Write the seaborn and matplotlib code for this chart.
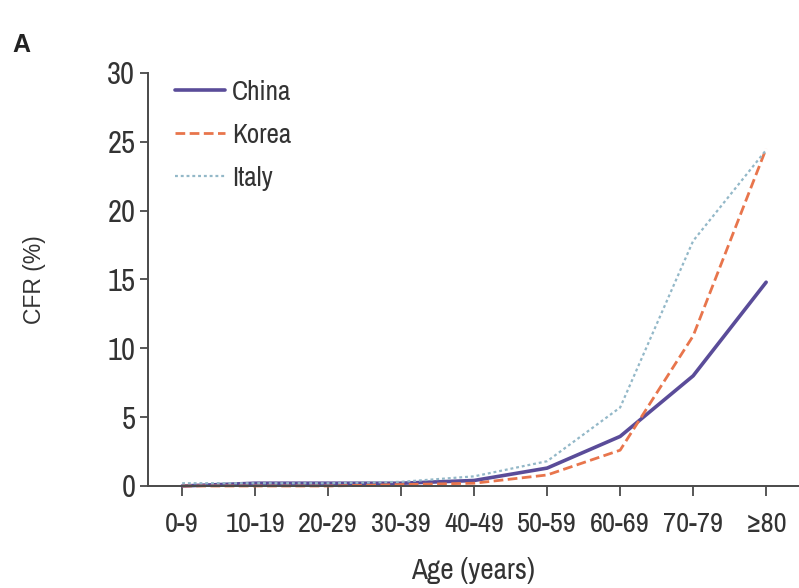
import matplotlib
matplotlib.use("Agg")
import matplotlib.pyplot as plt
from matplotlib import font_manager
from matplotlib.lines import Line2D
import seaborn as sns
import pandas as pd

# Case fatality rate (%) by age group
age_groups = ["0-9", "10-19", "20-29", "30-39", "40-49", "50-59", "60-69", "70-79", "≥80"]
china = [0.0, 0.2, 0.2, 0.2, 0.4, 1.3, 3.6, 8.0, 14.8]
korea = [0.0, 0.0, 0.0, 0.1, 0.2, 0.8, 2.6, 10.9, 24.5]
italy = [0.2, 0.2, 0.2, 0.3, 0.7, 1.8, 5.7, 17.8, 24.4]
countries = ["China", "Korea", "Italy"]
y_ticks = [0, 5, 10, 15, 20, 25, 30]

df = pd.DataFrame({
    "age": age_groups * 3,
    "cfr": china + korea + italy,
    "country": ["China"] * 9 + ["Korea"] * 9 + ["Italy"] * 9,
})

# Prefer a condensed sans face when one is available
narrow_family = None
narrow_stretch = "normal"
for f in font_manager.fontManager.ttflist:
    name = f.name.lower()
    if "narrow" in name or "condensed" in name:
        narrow_family = f.name
        break
if narrow_family is None:
    for f in font_manager.fontManager.ttflist:
        st = f.stretch
        if (isinstance(st, str) and "condensed" in st) or (isinstance(st, int) and st < 500):
            narrow_family = f.name
            narrow_stretch = "condensed"
            break
if narrow_family is None:
    narrow_family = "Liberation Sans"
have_narrow = narrow_family != "Liberation Sans"

sns.set_theme(style="white")
plt.rcParams["font.family"] = [narrow_family, "DejaVu Sans"]
plt.rcParams["font.stretch"] = narrow_stretch

scale = 1.0 if have_narrow else 0.86

palette = {"China": "#5a4c99", "Korea": "#e8754c", "Italy": "#93b8c8"}
dashes = {"China": "", "Korea": (3.5, 1.6), "Italy": (1.3, 1.3)}
widths = {"China": 2.6, "Korea": 2.0, "Italy": 1.6}

fig = plt.figure(figsize=(7.99, 5.88), dpi=100)
ax = fig.add_axes([0.185, 0.1735, 0.815, 0.7025])

sns.lineplot(data=df, x="age", y="cfr", hue="country", style="country",
             hue_order=countries, style_order=countries,
             palette=palette, dashes=dashes, sort=False, ax=ax, legend=False)
for line, name in zip(ax.get_lines(), countries):
    line.set_linewidth(widths[name])
    line.set_clip_on(False)

ax.set_xlim(-0.47, 8.45)
ax.set_ylim(0, 30)
ax.set_yticks(y_ticks)
ax.set_yticklabels([str(v) for v in y_ticks])

for side in ["top", "right"]:
    ax.spines[side].set_visible(False)
for side in ["left", "bottom"]:
    ax.spines[side].set_color("#4a4a4a")
    ax.spines[side].set_linewidth(1.4)

ax.tick_params(axis="y", direction="out", length=6, width=1.3, color="#4a4a4a",
               labelsize=22 * scale, labelcolor="#333333", pad=3, left=True)
ax.tick_params(axis="x", direction="out", length=7, width=1.3, color="#4a4a4a",
               labelsize=20.5 * scale, labelcolor="#333333", pad=12, bottom=True)

ax.set_xlabel("Age (years)", fontsize=21 * scale, color="#333333", labelpad=14)
ax.set_ylabel("CFR (%)", fontsize=16.5, color="#333333", labelpad=44,
              family=["Liberation Sans", "DejaVu Sans"], fontstretch="normal")

handles = [Line2D([0], [0], color=palette[c], lw=widths[c],
                  dashes=dashes[c] if dashes[c] else (None, None)) for c in countries]
ax.legend(handles, countries, loc="upper left", bbox_to_anchor=(0.041, 0.983),
          borderaxespad=0, borderpad=0,
          frameon=False, fontsize=19.5 * scale, handlelength=1.85, handletextpad=0.28,
          labelspacing=0.66, labelcolor="#333333")

fig.text(0.016, 0.912, "A", fontsize=18, fontweight="bold", color="#222222",
         family=["Liberation Sans", "DejaVu Sans"], fontstretch="normal")

fig.savefig("out.png", dpi=100, facecolor="white")
